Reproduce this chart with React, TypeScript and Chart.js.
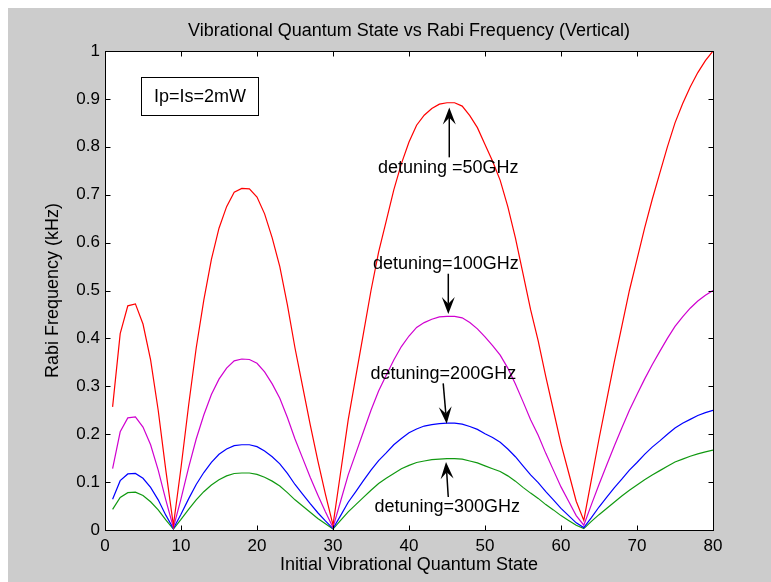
import React, { useEffect, useRef } from "react";
import { Chart, registerables } from "chart.js";

Chart.register(...registerables);

// ---------- data ----------
const states = [
  1, 2, 3, 4, 5, 6, 7, 8, 9, 10, 11, 12, 13, 14, 15, 16, 17, 18, 19, 20,
  21, 22, 23, 24, 25, 26, 27, 28, 29, 30, 31, 32, 33, 34, 35, 36, 37, 38, 39, 40,
  41, 42, 43, 44, 45, 46, 47, 48, 49, 50, 51, 52, 53, 54, 55, 56, 57, 58, 59, 60,
  61, 62, 63, 64, 65, 66, 67, 68, 69, 70, 71, 72, 73, 74, 75, 76, 77, 78, 79, 80,
];

const detuning50 = [
  0.257, 0.41, 0.468, 0.472, 0.43, 0.355, 0.25, 0.125, 0.01, 0.13,
  0.26, 0.38, 0.48, 0.565, 0.63, 0.675, 0.705, 0.713, 0.712, 0.695,
  0.66, 0.61, 0.55, 0.47, 0.38, 0.3, 0.22, 0.145, 0.075, 0.01,
  0.12, 0.23, 0.32, 0.41, 0.5, 0.58, 0.645, 0.71, 0.765, 0.81,
  0.845, 0.866, 0.88, 0.889, 0.892, 0.892, 0.885, 0.865, 0.84, 0.805,
  0.77, 0.73, 0.675, 0.61, 0.535, 0.46, 0.395, 0.32, 0.25, 0.18,
  0.12, 0.06, 0.02, 0.105, 0.19, 0.27, 0.35, 0.425, 0.5, 0.565,
  0.63, 0.69, 0.745, 0.8, 0.85, 0.89, 0.925, 0.955, 0.98, 1.0,
];

const detuning100 = [
  0.128, 0.205, 0.234, 0.236, 0.215, 0.178, 0.125, 0.063, 0.005, 0.065,
  0.13, 0.19, 0.24, 0.283, 0.315, 0.338, 0.353, 0.357, 0.356, 0.348,
  0.33, 0.305, 0.275, 0.235, 0.19, 0.15, 0.11, 0.073, 0.038, 0.005,
  0.06, 0.115, 0.16, 0.205, 0.25, 0.29, 0.323, 0.355, 0.383, 0.405,
  0.423, 0.433, 0.44, 0.445, 0.446, 0.446, 0.443, 0.433, 0.42, 0.403,
  0.385, 0.365, 0.338, 0.305, 0.268, 0.23, 0.198, 0.16, 0.125, 0.09,
  0.06, 0.03, 0.01, 0.053, 0.095, 0.135, 0.175, 0.213, 0.25, 0.283,
  0.315, 0.345, 0.373, 0.4, 0.425, 0.445, 0.463, 0.478, 0.49, 0.5,
];

const detuning200 = [
  0.064, 0.103, 0.117, 0.118, 0.108, 0.089, 0.063, 0.031, 0.003, 0.033,
  0.065, 0.095, 0.12, 0.141, 0.158, 0.169, 0.176, 0.178, 0.178, 0.174,
  0.165, 0.153, 0.138, 0.118, 0.095, 0.075, 0.055, 0.036, 0.019, 0.003,
  0.03, 0.058, 0.08, 0.103, 0.125, 0.145, 0.161, 0.178, 0.191, 0.203,
  0.211, 0.217, 0.22, 0.222, 0.223, 0.223, 0.221, 0.216, 0.21, 0.201,
  0.193, 0.183, 0.169, 0.153, 0.134, 0.115, 0.099, 0.08, 0.063, 0.045,
  0.03, 0.015, 0.005, 0.026, 0.048, 0.068, 0.088, 0.106, 0.125, 0.141,
  0.158, 0.173, 0.186, 0.2, 0.213, 0.223, 0.231, 0.239, 0.245, 0.25,
];

const detuning300 = [
  0.043, 0.068, 0.078, 0.079, 0.072, 0.059, 0.042, 0.021, 0.002, 0.022,
  0.043, 0.063, 0.08, 0.094, 0.105, 0.113, 0.118, 0.119, 0.119, 0.116,
  0.11, 0.102, 0.092, 0.078, 0.063, 0.05, 0.037, 0.024, 0.013, 0.002,
  0.02, 0.038, 0.053, 0.068, 0.083, 0.097, 0.108, 0.118, 0.128, 0.135,
  0.141, 0.144, 0.147, 0.148, 0.149, 0.149, 0.148, 0.144, 0.14, 0.134,
  0.128, 0.122, 0.113, 0.102, 0.089, 0.077, 0.066, 0.053, 0.042, 0.03,
  0.02, 0.01, 0.003, 0.018, 0.032, 0.045, 0.058, 0.071, 0.083, 0.094,
  0.105, 0.115, 0.124, 0.133, 0.142, 0.148, 0.154, 0.159, 0.163, 0.167,
];

const xTicks = [0, 10, 20, 30, 40, 50, 60, 70, 80];
const yTicks = [0, 0.1, 0.2, 0.3, 0.4, 0.5, 0.6, 0.7, 0.8, 0.9, 1];

const chartTitle = "Vibrational Quantum State vs Rabi Frequency (Vertical)";
const xTitle = "Initial Vibrational Quantum State";
const yTitle = "Rabi Frequency (kHz)";
const boxText = "Ip=Is=2mW";
const detuningLabels = ["detuning =50GHz", "detuning=100GHz", "detuning=200GHz", "detuning=300GHz"];

// ---------- styling / placement (data coordinates) ----------
const FONT = "'Liberation Sans', Arial, Helvetica, sans-serif";
const seriesStyle = [
  { data: detuning50, color: "#ff0000" },
  { data: detuning100, color: "#d000d0" },
  { data: detuning200, color: "#0000ff" },
  { data: detuning300, color: "#119911" },
];

const labelPlacement = [
  { text: [45.17, 0.7556], tail: [45.3, 0.778], tip: [45.3, 0.882] },
  { text: [44.85, 0.5556], tail: [45.17, 0.535], tip: [45.17, 0.451] },
  { text: [44.52, 0.3264], tail: [44.5, 0.306], tip: [44.96, 0.222] },
  { text: [45.04, 0.0472], tail: [45.17, 0.069], tip: [44.87, 0.142] },
];
const boxPlacement = { x1: 4.74, x2: 20.13, yTop: 0.946, yBottom: 0.867 };

function drawArrow(ctx: CanvasRenderingContext2D, x1: number, y1: number, x2: number, y2: number) {
  const ang = Math.atan2(y2 - y1, x2 - x1);
  const headLen = 17;
  const headW = 13;
  ctx.save();
  ctx.strokeStyle = "#000";
  ctx.fillStyle = "#000";
  ctx.lineWidth = 1.5;
  ctx.beginPath();
  ctx.moveTo(x1, y1);
  ctx.lineTo(x2 - Math.cos(ang) * headLen * 0.6, y2 - Math.sin(ang) * headLen * 0.6);
  ctx.stroke();
  ctx.translate(x2, y2);
  ctx.rotate(ang);
  ctx.beginPath();
  ctx.moveTo(0, 0);
  ctx.lineTo(-headLen, -headW / 2);
  ctx.lineTo(-headLen * 0.6, 0);
  ctx.lineTo(-headLen, headW / 2);
  ctx.closePath();
  ctx.fill();
  ctx.restore();
}

const plotDecor = {
  id: "plotDecor",
  beforeDraw(chart: any) {
    const { ctx, chartArea: a } = chart;
    ctx.save();
    ctx.fillStyle = "#ffffff";
    ctx.fillRect(a.left, a.top, a.right - a.left, a.bottom - a.top);
    ctx.restore();
  },
  afterDraw(chart: any) {
    const { ctx, chartArea: a, scales } = chart;
    const xs = scales.x;
    const ys = scales.y;
    const L = Math.round(a.left) + 0.5;
    const R = Math.round(a.right) + 0.5;
    const T = Math.round(a.top) + 0.5;
    const B = Math.round(a.bottom) + 0.5;
    const tl = 5;
    ctx.save();
    ctx.strokeStyle = "#000";
    ctx.lineWidth = 1;
    ctx.beginPath();
    for (const v of xTicks) {
      const px = Math.round(xs.getPixelForValue(v)) + 0.5;
      ctx.moveTo(px, B);
      ctx.lineTo(px, B - tl);
      ctx.moveTo(px, T);
      ctx.lineTo(px, T + tl);
    }
    for (const v of yTicks) {
      const py = Math.round(ys.getPixelForValue(v)) + 0.5;
      ctx.moveTo(L, py);
      ctx.lineTo(L + tl, py);
      ctx.moveTo(R, py);
      ctx.lineTo(R - tl, py);
    }
    ctx.stroke();
    ctx.strokeRect(L, T, R - L, B - T);

    // text box
    const bx1 = Math.round(xs.getPixelForValue(boxPlacement.x1)) + 0.5;
    const bx2 = Math.round(xs.getPixelForValue(boxPlacement.x2)) + 0.5;
    const by1 = Math.round(ys.getPixelForValue(boxPlacement.yTop)) + 0.5;
    const by2 = Math.round(ys.getPixelForValue(boxPlacement.yBottom)) + 0.5;
    ctx.fillStyle = "#fff";
    ctx.fillRect(bx1, by1, bx2 - bx1, by2 - by1);
    ctx.strokeRect(bx1, by1, bx2 - bx1, by2 - by1);
    ctx.fillStyle = "#000";
    ctx.font = `18px ${FONT}`;
    ctx.textAlign = "center";
    ctx.textBaseline = "middle";
    ctx.fillText(boxText, (bx1 + bx2) / 2, (by1 + by2) / 2 + 1);

    // detuning labels + arrows
    labelPlacement.forEach((p, i) => {
      ctx.fillStyle = "#000";
      ctx.fillText(detuningLabels[i], xs.getPixelForValue(p.text[0]), ys.getPixelForValue(p.text[1]));
      drawArrow(
        ctx,
        xs.getPixelForValue(p.tail[0]),
        ys.getPixelForValue(p.tail[1]),
        xs.getPixelForValue(p.tip[0]),
        ys.getPixelForValue(p.tip[1])
      );
    });
    ctx.restore();
  },
};

export default function App() {
  const canvasRef = useRef<HTMLCanvasElement | null>(null);

  useEffect(() => {
    if (!canvasRef.current) return;
    const chart = new Chart(canvasRef.current, {
      type: "line",
      data: {
        datasets: seriesStyle.map((s, i) => ({
          label: detuningLabels[i],
          data: states.map((x, j) => ({ x, y: s.data[j] })),
          borderColor: s.color,
          backgroundColor: s.color,
          borderWidth: 1.2,
          pointRadius: 0,
          tension: 0,
          fill: false,
        })),
      },
      options: {
        animation: false,
        responsive: false,
        devicePixelRatio: 1,
        layout: { padding: { left: 34, right: 58, top: 0, bottom: 6 } },
        plugins: {
          legend: { display: false },
          tooltip: { enabled: false },
          title: {
            display: true,
            text: chartTitle,
            color: "#000",
            fullSize: false,
            font: { family: FONT, size: 18, weight: "normal" },
            padding: { top: 12, bottom: 9.4 },
          },
        },
        scales: {
          x: {
            type: "linear",
            min: 0,
            max: 80,
            afterBuildTicks: (s: any) => {
              s.ticks = xTicks.map((value) => ({ value }));
            },
            afterFit: (s: any) => {
              s.height = 46;
            },
            grid: { display: false, drawTicks: false },
            border: { display: false },
            ticks: {
              color: "#000",
              font: { family: FONT, size: 17 },
              padding: 6,
              maxRotation: 0,
              autoSkip: false,
              callback: (v: any) => String(v),
            },
            title: {
              display: true,
              text: xTitle,
              color: "#000",
              font: { family: FONT, size: 18 },
              padding: 0,
            },
          },
          y: {
            type: "linear",
            min: 0,
            max: 1,
            afterBuildTicks: (s: any) => {
              s.ticks = yTicks.map((value) => ({ value }));
            },
            afterFit: (s: any) => {
              s.width = 63;
            },
            grid: { display: false, drawTicks: false },
            border: { display: false },
            ticks: {
              color: "#000",
              font: { family: FONT, size: 17 },
              padding: 5,
              autoSkip: false,
              callback: (v: any) => String(Math.round(Number(v) * 10) / 10),
            },
            title: {
              display: true,
              text: yTitle,
              color: "#000",
              font: { family: FONT, size: 18 },
              padding: 0,
            },
          },
        },
      } as any,
      plugins: [plotDecor],
    });
    return () => chart.destroy();
  }, []);

  return (
    <div
      style={{
        position: "fixed",
        left: 8,
        top: 8,
        width: 763,
        height: 574,
        background: "#cccccc",
      }}
    >
      <canvas ref={canvasRef} width={763} height={574} style={{ display: "block", width: 763, height: 574 }} />
    </div>
  );
}
